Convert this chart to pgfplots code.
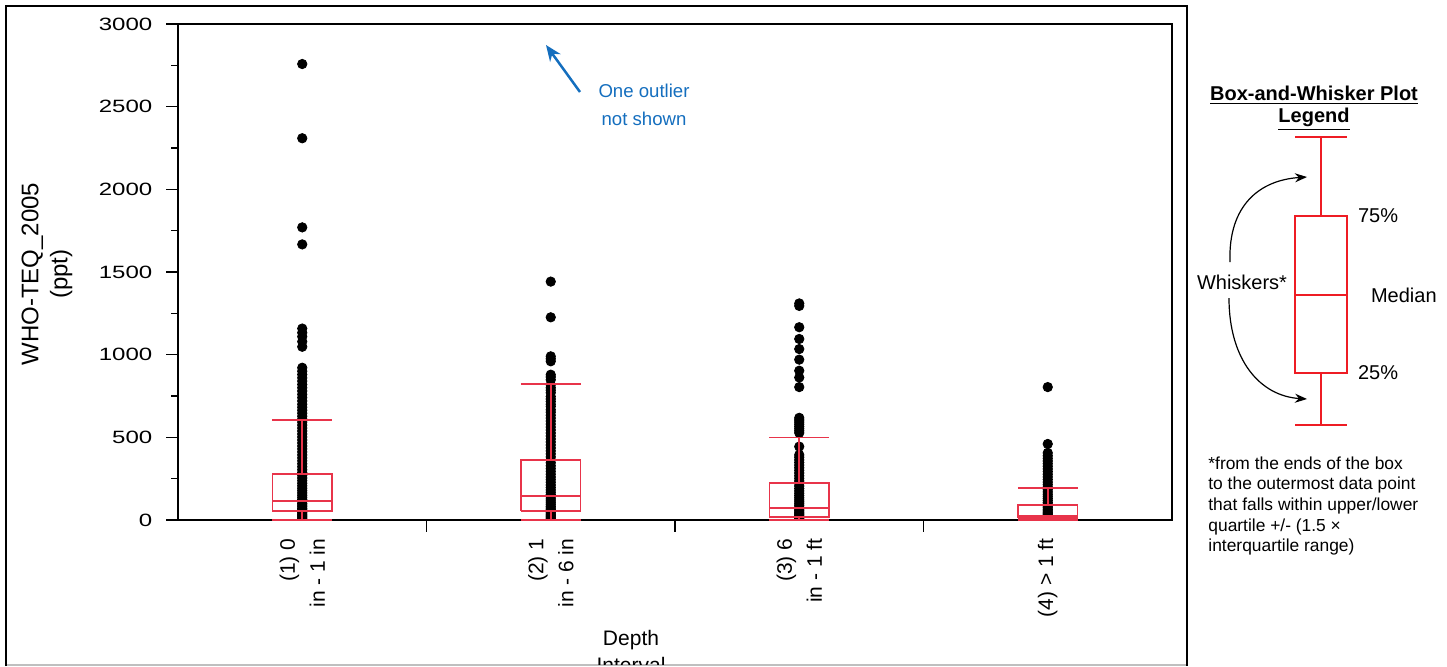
\documentclass[border=0pt]{standalone}
\usepackage{fontspec}
\setmainfont{Liberation Sans}
\newfontfamily\widefont{Liberation Sans}[FakeStretch=1.35]
\usepackage{pgfplots}
\pgfplotsset{compat=1.18}
\usetikzlibrary{arrows.meta}
\definecolor{boxred}{RGB}{232,52,74}
\definecolor{legred}{RGB}{238,28,36}
\definecolor{noteblue}{RGB}{20,110,190}

\begin{document}
\begin{tikzpicture}
\begin{axis}[
    at={(89pt,-260pt)}, anchor=south west,
    width=497pt, height=248pt, scale only axis,
    xmin=0, xmax=4, ymin=0, ymax=3000,
    axis line style={line width=0.9pt},
    tick style={line width=0.8pt, black},
    tick align=outside, tick pos=left,
    major tick length=5.8pt, minor tick length=3.3pt,
    ytick={0,500,...,3000}, minor y tick num=1,
    scaled y ticks=false,
    /pgf/number format/assume math mode=true,
    yticklabel style={font=\widefont\fontsize{8.9}{10}\selectfont, xshift=-3.5pt, /pgf/number format/1000 sep={}},
    xtick={1,2,3}, xticklabels={},
    extra x ticks={0.5,1.5,2.5,3.5},
    extra x tick labels={{(1) 0\\in - 1 in},{(2) 1\\in - 6 in},{(3) 6\\in - 1 ft},{(4) > 1 ft}},
    extra x tick style={tick style={draw=none},
        xticklabel style={rotate=90, anchor=east, align=right, font=\fontsize{10.5}{15}\selectfont}},
    clip marker paths=true,
    unbounded coords=jump,
]
% all observations (dots), drawn under the boxes
\addplot[only marks, mark=*, mark size=2.35pt, black] coordinates {
(0.5,3) (0.5,10) (0.5,18) (0.5,26) (0.5,35) (0.5,44) (0.5,52) (0.5,61) (0.5,70) (0.5,80)
(0.5,90) (0.5,100) (0.5,112) (0.5,124) (0.5,137) (0.5,150) (0.5,164) (0.5,178) (0.5,192) (0.5,207)
(0.5,222) (0.5,238) (0.5,254) (0.5,270) (0.5,287) (0.5,304) (0.5,322) (0.5,340) (0.5,358) (0.5,376)
(0.5,394) (0.5,412) (0.5,430) (0.5,448) (0.5,466) (0.5,484) (0.5,502) (0.5,520) (0.5,538) (0.5,556)
(0.5,574) (0.5,592) (0.5,610) (0.5,628) (0.5,646) (0.5,664) (0.5,682) (0.5,700) (0.5,720) (0.5,740)
(0.5,760) (0.5,780) (0.5,800) (0.5,820) (0.5,840) (0.5,860) (0.5,880) (0.5,900) (0.5,921)
(0.5,1048) (0.5,1079) (0.5,1109) (0.5,1133) (0.5,1158) (0.5,1667) (0.5,1770) (0.5,2309) (0.5,2758)
};
\addplot[only marks, mark=*, mark size=2.35pt, black] coordinates {
(1.5,3) (1.5,10) (1.5,18) (1.5,26) (1.5,35) (1.5,44) (1.5,53) (1.5,62) (1.5,72) (1.5,82)
(1.5,93) (1.5,104) (1.5,116) (1.5,128) (1.5,141) (1.5,154) (1.5,168) (1.5,182) (1.5,197) (1.5,212)
(1.5,228) (1.5,244) (1.5,260) (1.5,277) (1.5,294) (1.5,311) (1.5,328) (1.5,346) (1.5,364) (1.5,382)
(1.5,400) (1.5,418) (1.5,436) (1.5,454) (1.5,472) (1.5,490) (1.5,508) (1.5,526) (1.5,544) (1.5,562)
(1.5,580) (1.5,598) (1.5,616) (1.5,634) (1.5,652) (1.5,667) (1.5,687) (1.5,700) (1.5,717) (1.5,732)
(1.5,747) (1.5,770) (1.5,785) (1.5,800) (1.5,818) (1.5,848) (1.5,865) (1.5,879)
(1.5,960) (1.5,975) (1.5,990) (1.5,1226) (1.5,1442)
};
\addplot[only marks, mark=*, mark size=2.35pt, black] coordinates {
(2.5,2) (2.5,8) (2.5,15) (2.5,22) (2.5,30) (2.5,38) (2.5,47) (2.5,56) (2.5,66) (2.5,76)
(2.5,87) (2.5,98) (2.5,110) (2.5,122) (2.5,135) (2.5,148) (2.5,162) (2.5,176) (2.5,191) (2.5,206)
(2.5,221) (2.5,236) (2.5,252) (2.5,268) (2.5,284) (2.5,300) (2.5,316) (2.5,332) (2.5,348) (2.5,364)
(2.5,380) (2.5,394) (2.5,444)
(2.5,527) (2.5,540) (2.5,553) (2.5,566) (2.5,579) (2.5,592) (2.5,605) (2.5,618)
(2.5,804) (2.5,862) (2.5,903) (2.5,970) (2.5,1034) (2.5,1095) (2.5,1166) (2.5,1295) (2.5,1310)
};
\addplot[only marks, mark=*, mark size=2.35pt, black] coordinates {
(3.5,2) (3.5,8) (3.5,15) (3.5,22) (3.5,30) (3.5,38) (3.5,46) (3.5,55) (3.5,64) (3.5,74)
(3.5,84) (3.5,95) (3.5,106) (3.5,118) (3.5,130) (3.5,143) (3.5,156) (3.5,170) (3.5,184) (3.5,199)
(3.5,214) (3.5,229) (3.5,245) (3.5,261) (3.5,277) (3.5,293) (3.5,309) (3.5,325) (3.5,341) (3.5,357)
(3.5,373) (3.5,389) (3.5,406) (3.5,460) (3.5,804)
};
% boxes: quartile box, median, whiskers and caps (nan breaks the line)
\addplot[draw=boxred, line width=0.9pt, mark=none] coordinates {
(0.38,53) (0.62,53) (0.62,280) (0.38,280) (0.38,53) (nan,nan)
(0.38,113) (0.62,113) (nan,nan)
(0.5,280) (0.5,606) (nan,nan) (0.38,606) (0.62,606) (nan,nan)
(0.5,53) (0.5,0) (nan,nan) (0.38,0) (0.62,0)
};
\addplot[draw=boxred, line width=0.9pt, mark=none] coordinates {
(1.38,55) (1.62,55) (1.62,364) (1.38,364) (1.38,55) (nan,nan)
(1.38,147) (1.62,147) (nan,nan)
(1.5,364) (1.5,822) (nan,nan) (1.38,822) (1.62,822) (nan,nan)
(1.5,55) (1.5,0) (nan,nan) (1.38,0) (1.62,0)
};
\addplot[draw=boxred, line width=0.9pt, mark=none] coordinates {
(2.38,16) (2.62,16) (2.62,222) (2.38,222) (2.38,16) (nan,nan)
(2.38,74) (2.62,74) (nan,nan)
(2.5,222) (2.5,499) (nan,nan) (2.38,499) (2.62,499) (nan,nan)
(2.5,16) (2.5,0) (nan,nan) (2.38,0) (2.62,0)
};
\addplot[draw=boxred, line width=0.9pt, mark=none] coordinates {
(3.38,10) (3.62,10) (3.62,89) (3.38,89) (3.38,10) (nan,nan)
(3.38,26) (3.62,26) (nan,nan)
(3.5,89) (3.5,196) (nan,nan) (3.38,196) (3.62,196) (nan,nan)
(3.5,10) (3.5,0) (nan,nan) (3.38,0) (3.62,0)
};
\end{axis}

\begin{scope}[x=0.5pt, y=-0.5pt]
% outer frame
\draw[line width=1pt] (6,666) -- (6,6) -- (1187,6) -- (1187,666);
\draw[gray!50, line width=0.8pt] (7,665) -- (1186,665);
% axis titles
\node[rotate=90, align=center, font=\fontsize{12}{14.5}\selectfont] at (47,274) {WHO-TEQ\_2005\\(ppt)};
\begin{scope}
\clip (7,7) rectangle (1186,664);
\node[anchor=base, font=\fontsize{10.5}{12}\selectfont] at (631,645) {Depth};
\node[anchor=base, font=\fontsize{10.5}{12}\selectfont] at (631,672) {Interval};
\end{scope}
% note
\draw[noteblue, line width=1.25pt, -{Stealth[length=8pt,width=6.5pt]}] (580,92) -- (546,45);
\node[anchor=base, text=noteblue, font=\fontsize{9.3}{11}\selectfont] at (644,97) {One outlier};
\node[anchor=base, text=noteblue, font=\fontsize{9.3}{11}\selectfont] at (644,125) {not shown};
% legend
\node[anchor=base, font=\bfseries\fontsize{10}{12}\selectfont] at (1314,100) {\underline{Box-and-Whisker Plot}};
\node[anchor=base, font=\bfseries\fontsize{10}{12}\selectfont] at (1314,122) {\underline{Legend}};
\begin{scope}[legred, line width=0.75pt]
\draw (1295,137) -- (1347,137);
\draw (1321,137) -- (1321,216);
\draw (1295,216) rectangle (1347,373);
\draw (1295,295) -- (1347,295);
\draw (1321,373) -- (1321,425);
\draw (1295,425) -- (1347,425);
\end{scope}
\node[anchor=west, font=\fontsize{10}{12}\selectfont] at (1351,216) {75\%};
\node[anchor=west, font=\fontsize{10}{12}\selectfont] at (1364,295) {Median};
\node[anchor=west, font=\fontsize{10}{12}\selectfont] at (1351,373) {25\%};
\node[font=\fontsize{10}{12}\selectfont] at (1242,282) {Whiskers*};
\draw[line width=0.6pt, -{Stealth[length=6pt,width=4.5pt]}] (1230,262) .. controls (1228,205) and (1260,180) .. (1307,177);
\draw[line width=0.6pt, -{Stealth[length=6pt,width=4.5pt]}] (1229,298) .. controls (1229,360) and (1260,396) .. (1307,399);
\begin{scope}[font=\fontsize{8.7}{10}\selectfont]
\node[anchor=base west, inner sep=0pt] at (1208,469) {*from the ends of the box};
\node[anchor=base west, inner sep=0pt] at (1208,489.7) {to the outermost data point};
\node[anchor=base west, inner sep=0pt] at (1208,510.4) {that falls within upper/lower};
\node[anchor=base west, inner sep=0pt] at (1208,531.1) {quartile +/- (1.5 ×};
\node[anchor=base west, inner sep=0pt] at (1208,551.8) {interquartile range)};
\end{scope}
\pgfresetboundingbox
\path[use as bounding box] (0,0) rectangle (1447,666);
\end{scope}
\end{tikzpicture}
\end{document}
